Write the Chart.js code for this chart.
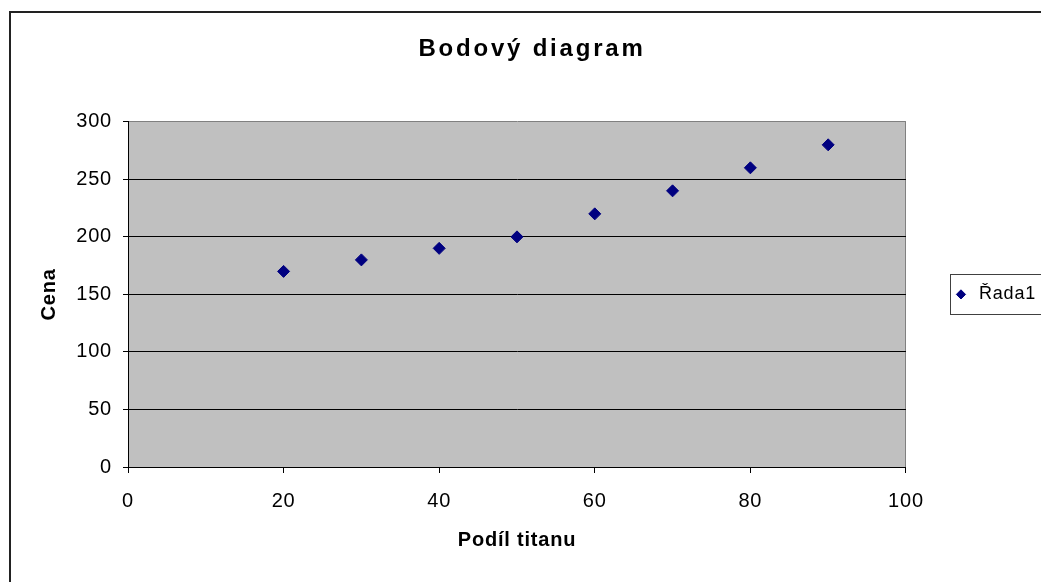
<!DOCTYPE html>
<html>
<head>
<meta charset="utf-8">
<script src="https://cdn.jsdelivr.net/npm/chart.js@4.4.1/dist/chart.umd.min.js"></script>
<style>
  body { margin: 0; background: #fff; }
  canvas { display: block; }
</style>
</head>
<body>
<canvas id="chart01" width="1041" height="582"></canvas>
<script>
// data
var podilTitanu = [20, 30, 40, 50, 60, 70, 80, 90];
var cena = [170, 180, 190, 200, 220, 240, 260, 280];
var xTicks = [0, 20, 40, 60, 80, 100];
var yTicks = [0, 50, 100, 150, 200, 250, 300];

var FONT = "'Liberation Sans', Arial, sans-serif";

// plot background, chart frame, legend frame
var excelLook = {
  id: 'excelLook',
  beforeDraw: function (chart) {
    var ctx = chart.ctx;
    var a = chart.chartArea;
    // wider title letters, like the original
    var t = chart.titleBlock;
    if (t && !t._spaced) {
      var orig = t.draw.bind(t);
      t.draw = function (area) {
        ctx.save();
        ctx.letterSpacing = '2.8px';
        orig(area);
        ctx.restore();
      };
      t._spaced = true;
    }
    ctx.save();
    ctx.fillStyle = '#fff';
    ctx.fillRect(0, 0, chart.width, chart.height);
    ctx.strokeStyle = '#222';
    ctx.lineWidth = 2;
    ctx.strokeRect(10, 12, chart.width + 20, chart.height + 20);
    ctx.fillStyle = '#C0C0C0';
    ctx.fillRect(a.left, a.top, a.right - a.left, a.bottom - a.top);
    ctx.restore();
    ctx.letterSpacing = '0.8px';
  },
  afterDraw: function (chart) {
    var hb = chart.legend.legendHitBoxes[0];
    if (!hb) return;
    var ctx = chart.ctx;
    var cy = hb.top + hb.height / 2;
    ctx.save();
    ctx.strokeStyle = '#404040';
    ctx.lineWidth = 1;
    ctx.strokeRect(Math.round(hb.left - 2) + 0.5, Math.round(cy - 20) + 0.5, 200, 40);
    ctx.restore();
  }
};

var ctx = document.getElementById('chart01');
var chart = new Chart(ctx, {
  type: 'scatter',
  data: {
    datasets: [{
      label: 'Řada1',
      data: podilTitanu.map(function (x, i) { return { x: x, y: cena[i] }; }),
      backgroundColor: '#000080',
      borderColor: '#000080',
      borderWidth: 1,
      pointStyle: 'rectRot',
      pointRadius: 6,
      pointHoverRadius: 6
    }]
  },
  options: {
    responsive: false,
    animation: false,
    events: [],
    layout: { padding: { left: 22, right: -1, top: 0, bottom: 0 } },
    scales: {
      x: {
        type: 'linear',
        min: 0,
        max: 100,
        afterBuildTicks: function (s) { s.ticks = xTicks.map(function (v) { return { value: v }; }); },
        afterFit: function (s) { s.height = 115; },
        grid: {
          color: function (c) { return c.tick && c.tick.value === 100 ? '#808080' : 'rgba(0,0,0,0)'; },
          tickColor: '#000',
          tickLength: 6,
          lineWidth: 1
        },
        border: { color: '#000', width: 1 },
        ticks: { color: '#000', padding: 16, maxRotation: 0, font: { family: FONT, size: 20 } },
        title: {
          display: true,
          text: 'Podíl titanu',
          color: '#000',
          font: { family: FONT, size: 20, weight: 'bold' },
          padding: { top: 0, bottom: 30 }
        }
      },
      y: {
        min: 0,
        max: 300,
        afterBuildTicks: function (s) { s.ticks = yTicks.map(function (v) { return { value: v }; }); },
        afterFit: function (s) { s.width = 106; },
        grid: {
          color: function (c) { return c.tick && c.tick.value === 300 ? '#808080' : '#000'; },
          tickColor: '#000',
          tickLength: 5,
          lineWidth: 1
        },
        border: { color: '#000', width: 1 },
        ticks: { color: '#000', padding: 11, font: { family: FONT, size: 20 } },
        title: {
          display: true,
          text: 'Cena',
          color: '#000',
          font: { family: FONT, size: 20, weight: 'bold' },
          padding: { top: 15, bottom: 0 }
        }
      }
    },
    plugins: {
      title: {
        display: true,
        text: 'Bodový diagram',
        color: '#000',
        font: { family: FONT, size: 24, weight: 'bold' },
        padding: { top: 35, bottom: 58 }
      },
      legend: {
        position: 'right',
        fullSize: false,
        labels: {
          usePointStyle: true,
          boxWidth: 20,
          boxHeight: 6.5,
          padding: 46,
          color: '#000',
          font: { family: FONT, size: 18 }
        }
      },
      tooltip: { enabled: false }
    }
  },
  plugins: [excelLook]
});
</script>
</body>
</html>
